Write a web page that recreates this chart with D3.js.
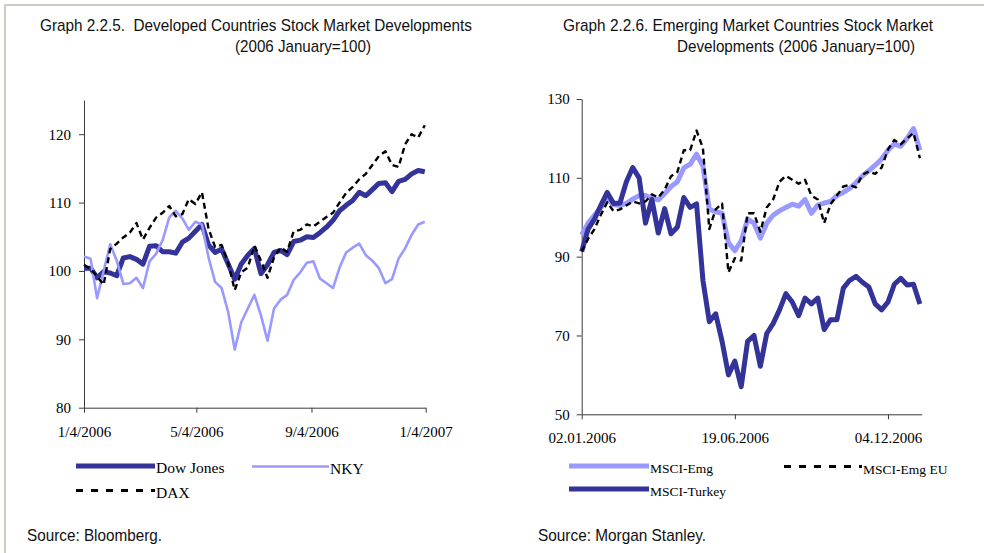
<!DOCTYPE html>
<html lang="en">
<head>
<meta charset="UTF-8">
<title>Stock Market Developments</title>
<script src="https://d3js.org/d3.v7.min.js"></script>
<style>
  body { margin: 0; background: #fff; }
  svg { display: block; }
  .axis .tick text { font-family: "Liberation Serif", "Times New Roman", serif; font-size: 15px; fill: #000; }
  .axis path, .axis line { stroke: #3a3a3a; stroke-width: 1; }
  .ttl { font-family: "Liberation Sans", Arial, sans-serif; font-size: 17px; fill: #111; white-space: pre; }
  .leg { font-family: "Liberation Serif", "Times New Roman", serif; fill: #000; }
</style>
</head>
<body>
<script>
// ---- data: weekly readings (index 2006 January = 100) ----
// Graph 2.2.5 - weeks starting 4 Jan 2006
const devStart = new Date(2006, 0, 4);
const dowJones = [100.4,100.4,99.0,99.9,99.7,99.3,101.9,102.1,101.7,101.0,103.6,103.7,102.8,102.8,102.6,104.2,104.8,105.8,106.8,103.8,102.7,103.2,101.0,98.8,101.0,102.3,103.3,99.6,100.9,102.7,103.0,102.4,104.3,104.5,105.0,104.9,105.6,106.4,107.4,108.8,109.6,110.3,111.5,111.0,111.9,112.8,112.9,111.6,113.1,113.4,114.2,114.7,114.5];
const nky = [102.1,101.8,96.0,100.0,103.9,101.5,98.1,98.2,99.0,97.5,101.4,102.5,104.5,107.8,108.8,107.7,106.0,107.2,106.8,102.0,98.4,97.5,94.0,88.5,92.5,94.5,96.5,93.5,89.8,94.5,95.8,96.5,98.7,99.8,101.2,101.4,98.9,98.2,97.5,100.5,102.7,103.4,104.0,102.3,101.5,100.4,98.2,98.8,101.8,103.3,105.3,106.8,107.2];
const dax = [100.9,100.3,99.2,98.0,103.2,104.0,104.9,105.6,107.0,104.6,106.3,107.8,108.5,109.5,108.0,108.3,110.5,109.8,111.5,106.2,103.5,103.8,101.2,97.2,99.8,100.5,103.7,101.5,99.0,102.0,103.4,102.8,105.8,106.0,106.8,106.5,107.2,107.9,108.5,110.0,111.4,112.3,113.4,114.2,115.5,116.8,117.5,115.5,115.2,118.5,120.0,119.5,121.3];
const devTicks = ["2006-01-04","2006-05-04","2006-09-04","2007-01-04"];
const devYTicks = [80, 90, 100, 110, 120];

// Graph 2.2.6 - weeks starting 2 Jan 2006
const emgStart = new Date(2006, 0, 2);
const msciEmg = [95.5,98.5,100.5,102.5,104.6,103.2,103.0,103.5,104.6,105.5,105.5,104.8,104.4,106.0,107.8,109.0,112.5,113.5,116.0,113.0,102.0,101.4,101.0,93.5,91.5,94.0,99.5,98.5,94.7,98.5,100.5,101.6,102.5,103.3,102.8,104.5,101.0,103.1,103.6,104.0,105.5,106.3,107.3,108.8,110.5,111.8,113.2,114.8,117.0,118.6,118.0,120.0,122.5,117.0];
const msciEmgEu = [91.3,94.5,97.0,100.6,103.8,101.5,102.0,103.0,104.0,103.5,104.0,105.8,105.0,107.0,110.4,111.5,117.0,117.0,122.0,117.5,97.0,102.0,103.5,86.0,89.6,89.0,101.0,101.0,96.3,102.5,104.5,109.0,110.5,109.5,108.5,109.5,105.5,104.5,98.5,103.3,105.5,107.8,108.2,107.6,110.8,111.6,111.0,112.6,117.2,119.6,118.5,120.0,121.4,115.0];
const msciTurkey = [91.3,97.0,99.5,103.0,106.3,103.5,103.6,109.0,112.6,110.0,98.5,104.5,96.0,102.2,95.8,97.5,105.0,102.5,103.4,84.0,73.5,75.5,68.5,60.0,63.5,57.0,68.5,70.0,62.2,70.5,73.0,76.5,80.6,78.5,75.0,79.5,78.0,79.5,71.5,74.0,74.0,82.0,84.0,85.0,83.5,82.3,78.0,76.5,78.5,83.0,84.5,82.8,83.0,78.0];
const emgTicks = ["2006-01-02","2006-06-19","2006-12-04"];
const emgYTicks = [50, 70, 90, 110, 130];

const DARK = "#333399", LIGHT = "#9999ff";

const width = 984, height = 553;
const svg = d3.select("body").append("svg")
    .attr("width", width)
    .attr("height", height);

// page frame
svg.append("path")
    .attr("d", "M5,553 V5 H984")
    .attr("fill", "none")
    .attr("stroke", "#cfcbc3")
    .attr("stroke-width", 2);

const parse = d3.timeParse("%Y-%m-%d");
const weekly = (start, n) => d3.range(n).map(i => d3.timeDay.offset(start, 7 * i));

function title(lines) {
  lines.forEach(l => {
    svg.append("text").attr("class", "ttl")
      .attr("x", l[0]).attr("y", l[1])
      .attr("textLength", l[2]).attr("lengthAdjust", "spacingAndGlyphs")
      .text(l[3]);
  });
}

function drawChart(cfg) {
  const x = d3.scaleTime().domain(cfg.xDomain).range(cfg.xRange);
  const y = d3.scaleLinear().domain(cfg.yDomain).range(cfg.yRange);
  const dates = weekly(cfg.start, cfg.series[0].values.length);

  svg.append("g").attr("class", "axis")
    .attr("transform", `translate(0,${cfg.yRange[0]})`)
    .call(d3.axisBottom(x).tickValues(cfg.xTicks.map(parse))
      .tickFormat(d3.timeFormat(cfg.xFormat)).tickSize(5).tickSizeOuter(0).tickPadding(cfg.xPad));

  svg.append("g").attr("class", "axis")
    .attr("transform", `translate(${cfg.xRange[0]},0)`)
    .call(d3.axisLeft(y).tickValues(cfg.yTicks).tickSize(5).tickSizeOuter(0).tickPadding(cfg.yPad));

  cfg.series.forEach(s => {
    const line = d3.line()
      .x((d, i) => x(dates[i]))
      .y(d => y(d));
    svg.append("path")
      .datum(s.values)
      .attr("d", line)
      .attr("fill", "none")
      .attr("stroke", s.color)
      .attr("stroke-width", s.width)
      .attr("stroke-linejoin", "round")
      .attr("stroke-dasharray", s.dash || null);
  });

  // legend
  cfg.legend.forEach(l => {
    const s = cfg.series.find(d => d.name === l.name);
    svg.append("line")
      .attr("x1", l.x1).attr("x2", l.x2).attr("y1", l.y).attr("y2", l.y)
      .attr("stroke", s.color).attr("stroke-width", s.legendWidth || s.width)
      .attr("stroke-dasharray", s.dash ? "7,8" : null);
    svg.append("text").attr("class", "leg")
      .attr("x", l.x2 + 1).attr("y", l.y + 7)
      .style("font-size", cfg.legendFont + "px")
      .text(l.name);
  });
}

// Graph 2.2.5
title([
  [40, 31, 432, "Graph 2.2.5.  Developed Countries Stock Market Developments"],
  [235, 52, 136, "(2006 January=100)"],
  [27, 541, 135, "Source: Bloomberg."]
]);
drawChart({
  start: devStart,
  xDomain: [new Date(2006, 0, 4), new Date(2007, 0, 4)],
  xRange: [84, 425.7],
  yDomain: [80, 125],
  yRange: [407.7, 100],
  xTicks: devTicks, xFormat: "%-m/%-d/%Y", xPad: 14,
  yTicks: devYTicks, yPad: 8,
  legendFont: 15.5,
  series: [
    { name: "Dow Jones", values: dowJones, color: DARK, width: 5 },
    { name: "NKY", values: nky, color: LIGHT, width: 2.6 },
    { name: "DAX", values: dax, color: "#000", width: 2.4, dash: "6,4", legendWidth: 3 }
  ],
  legend: [
    { name: "Dow Jones", x1: 76, x2: 155, y: 466 },
    { name: "NKY", x1: 252, x2: 329, y: 466.5 },
    { name: "DAX", x1: 76, x2: 155, y: 490.5 }
  ]
});

// Graph 2.2.6
title([
  [563, 31, 370, "Graph 2.2.6. Emerging Market Countries Stock Market"],
  [677, 52, 238, "Developments (2006 January=100)"],
  [538, 541, 168, "Source: Morgan Stanley."]
]);
drawChart({
  start: emgStart,
  xDomain: [new Date(2006, 0, 2), new Date(2007, 0, 10)],
  xRange: [581.7, 921.7],
  yDomain: [50, 130],
  yRange: [414.3, 99],
  xTicks: emgTicks, xFormat: "%d.%m.%Y", xPad: 13,
  yTicks: emgYTicks, yPad: 7,
  legendFont: 13.5,
  series: [
    { name: "MSCI-Emg", values: msciEmg, color: LIGHT, width: 5 },
    { name: "MSCI-Turkey", values: msciTurkey, color: DARK, width: 5 },
    { name: "MSCI-Emg EU", values: msciEmgEu, color: "#000", width: 2.4, dash: "6,4", legendWidth: 3 }
  ],
  legend: [
    { name: "MSCI-Emg", x1: 569, x2: 649, y: 466 },
    { name: "MSCI-Emg EU", x1: 784, x2: 862, y: 466.5 },
    { name: "MSCI-Turkey", x1: 569, x2: 649, y: 489 }
  ]
});
</script>
</body>
</html>
